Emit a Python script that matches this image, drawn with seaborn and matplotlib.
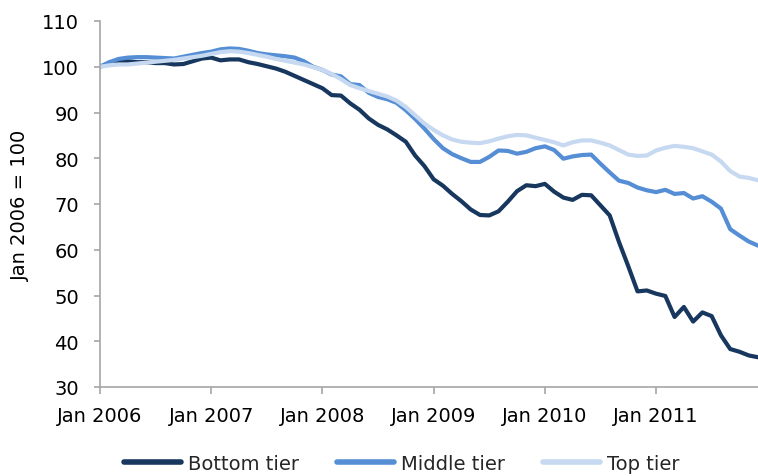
import numpy as np
import pandas as pd
import matplotlib
matplotlib.use("Agg")
import matplotlib.pyplot as plt
import seaborn as sns
from matplotlib.lines import Line2D

months = list(range(72))  # Jan 2006 .. Dec 2011
tick_labels = ["Jan 2006", "Jan 2007", "Jan 2008", "Jan 2009", "Jan 2010", "Jan 2011"]
tiers = ["Bottom tier", "Middle tier", "Top tier"]

bottom = [100.0, 100.8, 101.3, 101.2, 101.0, 101.0, 100.8, 100.8, 100.5, 100.6, 101.2, 101.8,
          102.0, 101.4, 101.6, 101.6, 101.0, 100.6, 100.1, 99.6, 98.9, 98.0, 97.1, 96.2,
          95.3, 93.8, 93.7, 92.0, 90.6, 88.7, 87.3, 86.3, 85.0, 83.6, 80.6, 78.3,
          75.4, 74.0, 72.2, 70.6, 68.8, 67.6, 67.5, 68.4, 70.5, 72.8, 74.1, 73.9,
          74.4, 72.7, 71.4, 70.9, 72.0, 71.9, 69.7, 67.5, 61.7, 56.4, 50.9, 51.1,
          50.4, 49.9, 45.3, 47.5, 44.3, 46.3, 45.5, 41.3, 38.3, 37.7, 36.9, 36.5]

middle = [100.0, 101.0, 101.7, 102.0, 102.1, 102.1, 102.0, 101.9, 101.8, 102.2, 102.6, 103.0,
          103.3, 103.8, 104.0, 103.9, 103.5, 103.0, 102.7, 102.5, 102.3, 102.0, 101.2, 100.0,
          99.3, 98.3, 97.9, 96.2, 96.0, 94.3, 93.4, 92.9, 92.1, 90.5, 88.6, 86.5,
          84.2, 82.2, 80.9, 80.0, 79.2, 79.2, 80.3, 81.7, 81.6, 81.0, 81.4, 82.2,
          82.6, 81.8, 79.9, 80.4, 80.7, 80.8, 78.8, 76.9, 75.1, 74.6, 73.6, 73.0,
          72.6, 73.1, 72.2, 72.4, 71.2, 71.7, 70.5, 69.0, 64.5, 63.1, 61.8, 60.9]

top = [100.0, 100.3, 100.5, 100.5, 100.7, 100.9, 101.1, 101.3, 101.5, 101.8, 102.1, 102.4,
       102.8, 103.2, 103.4, 103.3, 103.0, 102.6, 102.2, 101.7, 101.3, 100.9, 100.5, 99.9,
       99.3, 98.4, 97.3, 96.0, 95.3, 94.7, 94.1, 93.5, 92.6, 91.2, 89.4, 87.6,
       86.2, 85.0, 84.1, 83.6, 83.4, 83.3, 83.7, 84.3, 84.8, 85.1, 85.0, 84.5,
       84.0, 83.5, 82.8, 83.5, 83.9, 83.9, 83.4, 82.8, 81.8, 80.8, 80.5, 80.6,
       81.7, 82.3, 82.7, 82.5, 82.2, 81.5, 80.8, 79.3, 77.2, 76.0, 75.7, 75.2]

colors = ["#17375E", "#558ED5", "#C6D9F1"]

df = pd.concat([
    pd.DataFrame({"month": months, "value": vals, "tier": name})
    for name, vals in zip(tiers, [bottom, middle, top])
], ignore_index=True)

sns.set_theme(style="white")
plt.rcParams["font.family"] = ["DejaVu Sans"]

fig = plt.figure(figsize=(7.58, 4.77), dpi=100)
ax = fig.add_axes([100 / 758, (477 - 388) / 477, 658 / 758, 366 / 477])

sns.lineplot(data=df, x="month", y="value", hue="tier", hue_order=tiers,
             palette=colors, linewidth=3.0, ax=ax, legend=False, sort=False)

ax.set_xlim(0, 71)
ax.set_ylim(30, 110)
ax.set_yticks(np.arange(30, 111, 10))
ax.set_xticks([0, 12, 24, 36, 48, 60])
ax.set_xticklabels(tick_labels)

for s in ["top", "right"]:
    ax.spines[s].set_visible(False)
for s in ["left", "bottom"]:
    ax.spines[s].set_color("#A6A6A6")
    ax.spines[s].set_linewidth(1.2)

ax.tick_params(axis="y", which="both", left=True, length=4, width=1.2, color="#A6A6A6",
               labelsize=14, pad=11, labelcolor="#000000")
ax.tick_params(axis="x", which="both", bottom=True, length=5, width=1.2, color="#A6A6A6",
               labelsize=14, pad=9, labelcolor="#000000")

ax.set_xlabel("")
ax.set_ylabel("Jan 2006 = 100", fontsize=14, color="#000000")
ax.yaxis.set_label_coords(-0.107, 0.5)
ax.grid(False)

handles = [Line2D([0], [0], color=c, lw=4) for c in colors]
fig.legend(handles, tiers, loc="lower center", bbox_to_anchor=(0.53, -0.03), ncol=3,
           frameon=False, fontsize=14, handlelength=2.9, handletextpad=0.35,
           columnspacing=2.0)

fig.savefig("out.png", dpi=100)
